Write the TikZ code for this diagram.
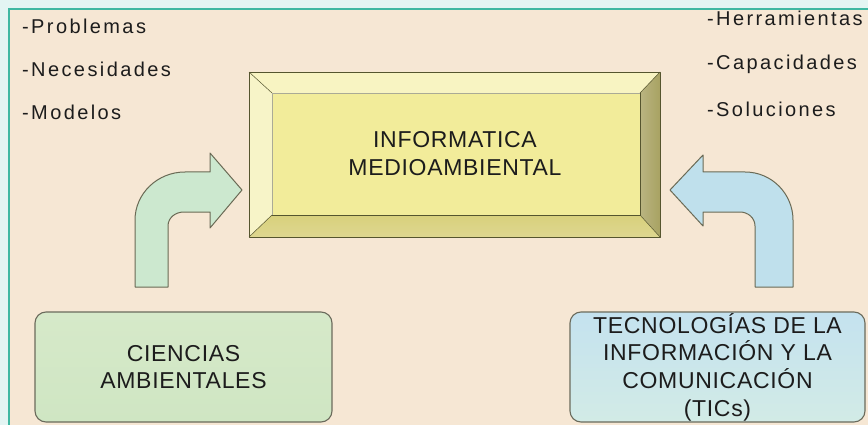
\documentclass[tikz,border=0pt]{standalone}
\usepackage{fontspec}
\setmainfont{Liberation Sans}
\newfontfamily\sidef[LetterSpace=12]{Liberation Sans}
\newfontfamily\boxf[LetterSpace=3]{Liberation Sans}
\definecolor{outerbg}{HTML}{E3F5F3}
\definecolor{panelbg}{HTML}{F6E7D4}
\definecolor{tealline}{HTML}{3FB8A2}
\definecolor{faceY}{HTML}{F2EC9A}
\definecolor{topY}{HTML}{F8F4C2}
\definecolor{leftY}{HTML}{F7F4C8}
\definecolor{rightY}{HTML}{A8A262}
\definecolor{botY}{HTML}{D8D07C}
\definecolor{bevline}{HTML}{55552E}
\definecolor{arrline}{HTML}{6A6A55}
\definecolor{greenA}{HTML}{CCE8CF}
\definecolor{blueA}{HTML}{BFE0EC}
\definecolor{greenBtop}{HTML}{D6E9C9}
\definecolor{greenBbot}{HTML}{CFE6C3}
\definecolor{blueBtop}{HTML}{C4E2EF}
\definecolor{blueBbot}{HTML}{D2EBE6}
\definecolor{boxline}{HTML}{6B6B5C}
\definecolor{txt}{HTML}{1C1C1C}
\begin{document}
\begin{tikzpicture}[x=1pt,y=-1pt,
  sidetext/.style={anchor=base west, inner sep=0pt, text=txt, font=\sidef\fontsize{20}{24}\selectfont},
  bevelface/.style={draw=bevline, line width=0.7pt, line join=round},
  bigarrow/.style={draw=arrline, line width=1pt, line join=round},
  bottombox/.style={draw=boxline, line width=1.1pt, rounded corners=11pt, minimum width=297pt, minimum height=110pt, inner sep=0pt, align=center, text=txt, font=\boxf\fontsize{23}{27.7}\selectfont}
]
\useasboundingbox (0,0) rectangle (868,425);
% backgrounds
\fill[outerbg] (0,0) rectangle (868,425);
\fill[panelbg] (9,9) rectangle (868,425);
\draw[tealline, line width=2pt] (9,425) -- (9,9) -- (868,9);

% side lists
\node[sidetext] (p1) at (22,34) {-Problemas};
\node[sidetext] (p2) at (22,77) {-Necesidades};
\node[sidetext] (p3) at (22,120) {-Modelos};
\node[sidetext] (h1) at (707,26) {-Herramientas};
\node[sidetext] (h2) at (707,70) {-Capacidades};
\node[sidetext] (h3) at (707,117) {-Soluciones};

% main bevelled box
\fill[topY] (249,72) -- (660,72) -- (640,93) -- (272,93) -- cycle;
\fill[leftY] (249,72) -- (272,93) -- (272,215) -- (249,237) -- cycle;
\shade[left color=rightY!80!white, right color=rightY] (660,72) -- (660,237) -- (640,215) -- (640,93) -- cycle;
\shade[top color=botY, bottom color=botY!85!white] (249,237) -- (660,237) -- (640,215) -- (272,215) -- cycle;
\fill[faceY] (272,93) rectangle (640,215);
\draw[bevelface] (249,72) rectangle (660,237);
\draw[bevline, line width=0.5pt] (249,72) -- (272,93) (660,72) -- (640,93) (249,237) -- (272,215) (660,237) -- (640,215);
\draw[bevline, line width=1pt] (272,215) -- (640,215) -- (640,93);
\draw[bevline!50, line width=0.5pt] (272,215) -- (272,93) -- (640,93);
\node[align=center, inner sep=0pt, text=txt, font=\boxf\fontsize{23}{28}\selectfont] (main) at (455,154) {INFORMATICA\\MEDIOAMBIENTAL};

% bent arrows
\path[bigarrow, fill=greenA] (135,287) -- (135,220) .. controls (135,194) and (157,172) .. (185,172) -- (210,172) -- (210,153) -- (242,190) -- (210,228) -- (210,212) -- (184,212) .. controls (175,212) and (168,218) .. (168,226) -- (168,287) -- cycle;
\path[bigarrow, fill=blueA] (755,287) -- (755,226) .. controls (755,218) and (748,212) .. (740,212) -- (703,212) -- (703,226) -- (670,190) -- (703,155) -- (703,172) -- (745,172) .. controls (772,172) and (793,194) .. (793,220) -- (793,287) -- cycle;

% bottom boxes
\node[bottombox, top color=greenBtop, bottom color=greenBbot] (cien) at (183.5,367) {CIENCIAS\\AMBIENTALES};
\node[bottombox, minimum width=295pt, top color=blueBtop, bottom color=blueBbot] (tic) at (717.5,367) {TECNOLOGÍAS DE LA\\INFORMACIÓN Y LA\\COMUNICACIÓN\\(TICs)};
\end{tikzpicture}
\end{document}
